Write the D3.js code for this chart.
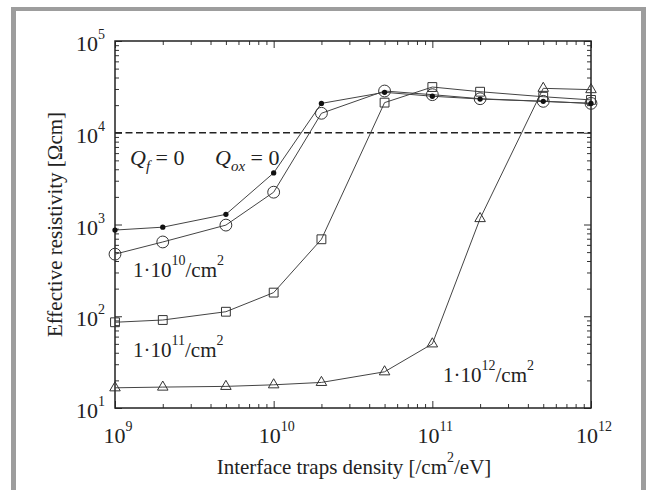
<!DOCTYPE html>
<html>
<head>
<meta charset="utf-8">
<script src="https://cdn.jsdelivr.net/npm/d3@7"></script>
<style>
  body { margin: 0; background: #fff; }
  svg { display: block; font-family: 'Liberation Serif', 'Times New Roman', serif; }
</style>
</head>
<body>
<script>
// interface trap density [/cm2/eV] and effective resistivity [Ohm cm]
const density = [1e9, 2e9, 5e9, 1e10, 2e10, 5e10, 1e11, 2e11, 5e11, 1e12]
const rhoQf0 = [870, 935, 1290, 3650, 20900, 27600, 25000, 23300, 22000, 20900]
const rho1e10 = [475, 645, 985, 2250, 16300, 28500, 26000, 23500, 22000, 20900]
const rho1e11 = [86, 91, 112, 181, 690, 21300, 31500, 28000, 24700, 22800]
const rho1e12 = [16.6, 16.9, 17.2, 17.9, 19, 24.8, 50, 1160, 30500, 29500]
const xExp = [9, 10, 11, 12]
const yExp = [1, 2, 3, 4, 5]
const threshold = 1e4

const W = 646, H = 490
const pLeft = 115, pRight = 591, pTop = 41, pBottom = 408

let svg = d3.select('body').append('svg').attr('width', W).attr('height', H)

// grey frame of the figure
svg.append('rect').attr('x', 11).attr('y', 7).attr('width', 5).attr('height', H - 7).attr('fill', '#9d9d9d')
svg.append('rect').attr('x', 11).attr('y', 7).attr('width', W - 11).attr('height', 4).attr('fill', '#9d9d9d')
svg.append('rect').attr('x', 641).attr('y', 7).attr('width', 5).attr('height', H - 7).attr('fill', '#9d9d9d')

let x = d3.scaleLog().domain([1e9, 1e12]).range([pLeft, pRight])
let y = d3.scaleLog().domain([10, 1e5]).range([pBottom, pTop])

let major = (e) => e.map(d => Math.pow(10, d))
let minorOf = (sc) => sc.ticks().filter(d => Math.abs(Math.log10(d) % 1) > 1e-6)

let axisStyle = g => {
  g.select('.domain').remove()
  g.selectAll('.tick line').attr('stroke', '#333').attr('stroke-width', 1)
}

// ticks on all four sides, pointing inwards
let drawAxes = (size, vals, valsY) => {
  svg.append('g').attr('transform', `translate(0,${pBottom})`)
    .call(d3.axisBottom(x).tickValues(vals).tickSize(-size).tickFormat(''))
    .call(axisStyle)
  svg.append('g').attr('transform', `translate(0,${pTop})`)
    .call(d3.axisTop(x).tickValues(vals).tickSize(-size).tickFormat(''))
    .call(axisStyle)
  svg.append('g').attr('transform', `translate(${pLeft},0)`)
    .call(d3.axisLeft(y).tickValues(valsY).tickSize(-size).tickFormat(''))
    .call(axisStyle)
  svg.append('g').attr('transform', `translate(${pRight},0)`)
    .call(d3.axisRight(y).tickValues(valsY).tickSize(-size).tickFormat(''))
    .call(axisStyle)
}
drawAxes(4, minorOf(x), minorOf(y))
drawAxes(7, major(xExp), major(yExp))

svg.append('rect')
  .attr('x', pLeft).attr('y', pTop)
  .attr('width', pRight - pLeft).attr('height', pBottom - pTop)
  .attr('fill', 'none').attr('stroke', '#222').attr('stroke-width', 1.5)

// tick labels 10^n
let power = (g, e) => {
  g.append('tspan').text('10')
  g.append('tspan').attr('font-size', 14).attr('dy', -12).text(e)
}
svg.append('g').selectAll('text').data(xExp).enter()
  .append('text')
  .attr('x', d => x(Math.pow(10, d)) + 3)
  .attr('y', pBottom + 35)
  .attr('text-anchor', 'middle')
  .attr('font-size', 22)
  .attr('fill', '#222')
  .each(function (d) { power(d3.select(this), d) })

svg.append('g').selectAll('text').data(yExp).enter()
  .append('text')
  .attr('x', pLeft - 10)
  .attr('y', d => y(Math.pow(10, d)) + 10)
  .attr('text-anchor', 'end')
  .attr('font-size', 22)
  .attr('fill', '#222')
  .each(function (d) { power(d3.select(this), d) })

// axis titles
let xt = svg.append('text')
  .attr('x', (pLeft + pRight) / 2 + 1).attr('y', 474)
  .attr('text-anchor', 'middle').attr('font-size', 21).attr('fill', '#222')
xt.append('tspan').text('Interface traps density [/cm')
xt.append('tspan').attr('font-size', 14).attr('dy', -12).text('2')
xt.append('tspan').attr('dy', 12).text('/eV]')

svg.append('text')
  .attr('transform', `translate(62,${(pTop + pBottom) / 2}) rotate(-90)`)
  .attr('text-anchor', 'middle').attr('font-size', 21).attr('fill', '#222')
  .text('Effective resistivity [Ωcm]')

// 1e4 threshold
svg.append('line')
  .attr('x1', pLeft).attr('x2', pRight)
  .attr('y1', y(threshold)).attr('y2', y(threshold))
  .attr('stroke', '#222').attr('stroke-width', 1.5).attr('stroke-dasharray', '7,3.5')

let line = d3.line().x((d, i) => x(density[i])).y(d => y(d))

let series = [
  { vals: rho1e12, shape: d3.symbolTriangle, size: 48 },
  { vals: rho1e11, shape: d3.symbolSquare, size: 78 },
  { vals: rho1e10, shape: d3.symbolCircle, size: 110 },
  { vals: rhoQf0, shape: d3.symbolCircle, size: 22, filled: true }
]

series.forEach(s => {
  svg.append('path').datum(s.vals)
    .attr('d', line)
    .attr('fill', 'none').attr('stroke', '#444').attr('stroke-width', 1)
})
series.forEach(s => {
  svg.append('g').selectAll('path').data(s.vals).enter()
    .append('path')
    .attr('transform', (d, i) => `translate(${x(density[i])},${y(d)})`)
    .attr('d', d3.symbol().type(s.shape).size(s.size))
    .attr('fill', s.filled ? '#111' : 'none')
    .attr('stroke', s.filled ? 'none' : '#333')
    .attr('stroke-width', 1)
})

// annotations
let q = svg.append('text').attr('x', 130).attr('y', 165).attr('font-size', 22).attr('fill', '#222')
q.append('tspan').attr('font-style', 'italic').text('Q')
q.append('tspan').attr('font-style', 'italic').attr('font-size', 15).attr('dy', 6).text('f')
q.append('tspan').attr('dy', -6).text(' = 0')

let qo = svg.append('text').attr('x', 215).attr('y', 165).attr('font-size', 22).attr('fill', '#222')
qo.append('tspan').attr('font-style', 'italic').text('Q')
qo.append('tspan').attr('font-style', 'italic').attr('font-size', 15).attr('dy', 6).text('ox')
qo.append('tspan').attr('dy', -6).text(' = 0')

let dose = (px, py, e) => {
  let t = svg.append('text').attr('x', px).attr('y', py).attr('font-size', 21).attr('fill', '#222')
  t.append('tspan').text('1·10')
  t.append('tspan').attr('font-size', 14).attr('dy', -12).text(e)
  t.append('tspan').attr('dy', 12).text('/cm')
  t.append('tspan').attr('font-size', 14).attr('dy', -12).text('2')
}
dose(133, 277, '10')
dose(133, 357, '11')
dose(443, 382, '12')
</script>
</body>
</html>
